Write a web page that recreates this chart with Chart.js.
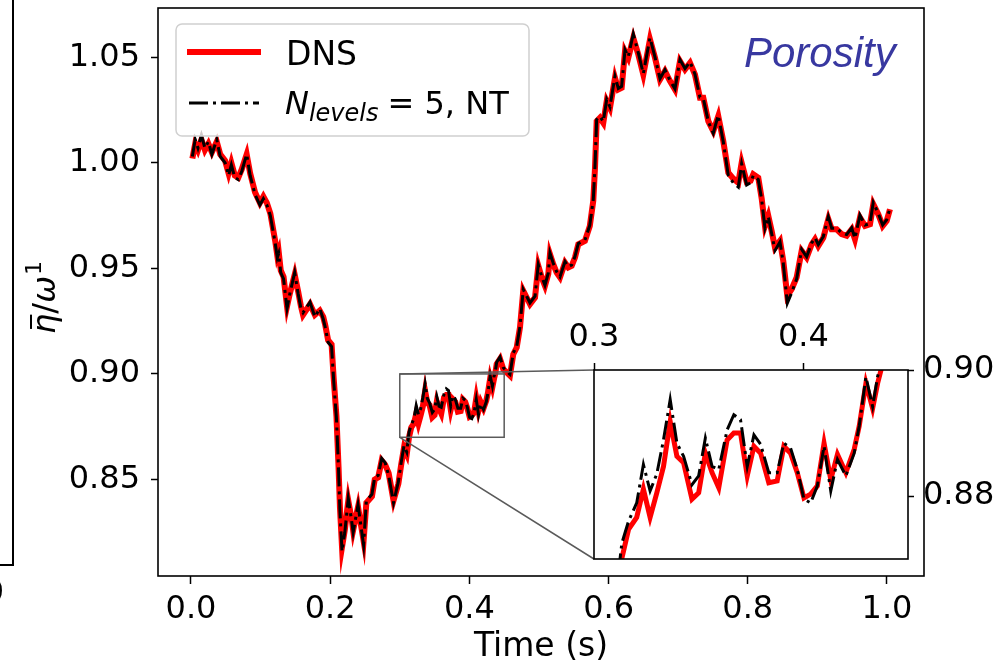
<!DOCTYPE html>
<html lang="en">
<head>
<meta charset="UTF-8">
<title>Porosity: DNS vs NT</title>
<script src="https://cdn.jsdelivr.net/npm/chart.js"></script>
<style>
    body { margin: 0; background: #fff; }
    #wrap { position: relative; width: 1000px; height: 664px; }
    #mainChart { position: absolute; left: 0; top: 0; }
    #insetChart { position: absolute; left: 560px; top: 300px; }
</style>
</head>
<body>
<div id="wrap">
    <canvas id="mainChart" width="1000" height="664"></canvas>
    <canvas id="insetChart" width="440" height="290"></canvas>
</div>
<script>
// time samples (s)
const time = [
    0.002, 0.006, 0.010, 0.015, 0.020, 0.025, 0.030, 0.037, 0.042, 0.049, 0.054, 0.058, 0.063, 0.068, 0.073, 0.080,
    0.085, 0.092, 0.099, 0.104, 0.109, 0.114, 0.121, 0.124, 0.126, 0.129, 0.133, 0.138, 0.142, 0.149, 0.154, 0.158,
    0.161, 0.171, 0.178, 0.185, 0.190, 0.193, 0.197, 0.202, 0.205, 0.209, 0.212, 0.214, 0.217, 0.221, 0.226, 0.231,
    0.233, 0.240, 0.248, 0.252, 0.260, 0.264, 0.269, 0.274, 0.279, 0.284, 0.291, 0.298, 0.302, 0.306, 0.310,
    0.3133, 0.3165, 0.3204, 0.3236, 0.3268, 0.3300, 0.3332, 0.3364, 0.3396, 0.3428, 0.3468, 0.3500, 0.3532, 0.3564,
    0.3596, 0.3636, 0.3668, 0.3700, 0.3732, 0.3764, 0.3796, 0.3835, 0.3875, 0.3907, 0.3939, 0.3971, 0.4003, 0.4035,
    0.4067, 0.4099, 0.4131, 0.4163, 0.4203, 0.4243, 0.4267, 0.4299, 0.4331, 0.4355, 0.4371,
    0.4392, 0.4440, 0.4487, 0.4536, 0.4583, 0.4631, 0.4680, 0.4727, 0.4774, 0.4823, 0.4871, 0.4943, 0.4990, 0.5039,
    0.5086, 0.5134, 0.5158, 0.5205, 0.5254, 0.5302, 0.5374, 0.5421, 0.5470, 0.5517, 0.5565, 0.5660, 0.5730,
    0.5780, 0.5805, 0.5829, 0.5876, 0.5924, 0.5973, 0.6020, 0.6092, 0.6140, 0.6188, 0.6236, 0.6283, 0.6355, 0.6427,
    0.6499, 0.6595, 0.6667, 0.6739, 0.6810, 0.6882, 0.6954, 0.7026, 0.7098, 0.7170, 0.7241, 0.7313, 0.7361, 0.7433,
    0.7504, 0.7576, 0.7648, 0.7720, 0.7792, 0.7864, 0.7912, 0.7984, 0.8040, 0.8079, 0.8151, 0.8200,
    0.8247, 0.8295, 0.8343, 0.8391, 0.8463, 0.8510, 0.8568, 0.8631, 0.8702, 0.8774, 0.8846, 0.8918, 0.8966, 0.9013,
    0.9085, 0.9157, 0.9206, 0.9277, 0.9349, 0.9421, 0.9493, 0.9540, 0.9612, 0.9684, 0.9756, 0.9803, 0.9875, 0.9938,
    0.9996, 1.0043
];

// DNS porosity
const dns = [
    1.002, 1.009, 1.006, 1.011, 1.006, 1.009, 1.005, 1.010, 1.004, 1.001, 0.995, 1.000, 0.994, 0.993, 0.997, 1.004,
    0.995, 0.986, 0.981, 0.984, 0.981, 0.976, 0.963, 0.956, 0.958, 0.949, 0.946, 0.932, 0.938, 0.947, 0.939, 0.932,
    0.928, 0.933, 0.928, 0.930, 0.927, 0.923, 0.916, 0.914, 0.898, 0.880, 0.856, 0.837, 0.818, 0.826, 0.840, 0.831,
    0.826, 0.837, 0.821, 0.839, 0.842, 0.850, 0.851, 0.859, 0.857, 0.853, 0.840, 0.848, 0.857, 0.865, 0.862,
    0.8701, 0.8747, 0.8766, 0.8811, 0.8766, 0.8805, 0.8847, 0.8918, 0.8863, 0.8853, 0.8795, 0.8805, 0.8868, 0.8837,
    0.8813, 0.8889, 0.8900, 0.8900, 0.8832, 0.8879, 0.8868, 0.8821, 0.8824, 0.8879, 0.8868, 0.8837, 0.8797, 0.8803,
    0.8816, 0.8884, 0.8826, 0.8866, 0.8837, 0.8874, 0.8911, 0.8979, 0.8939, 0.8979, 0.9000,
    0.9047, 0.9071, 0.9023, 0.9007, 0.8992, 0.9094, 0.9125, 0.9220, 0.9394, 0.9362, 0.9331, 0.9362, 0.9512, 0.9457,
    0.9417, 0.9473, 0.9567, 0.9520, 0.9480, 0.9457, 0.9527, 0.9504, 0.9512, 0.9551, 0.9614, 0.9630, 0.9700,
    0.9819, 0.9977, 1.0197, 1.0213, 1.0189, 1.0292, 1.0260, 1.0402, 1.0347, 1.0355, 1.0528, 1.0497, 1.0591, 1.0513,
    1.0418, 1.0584, 1.0497, 1.0394, 1.0434, 1.0387, 1.0347, 1.0481, 1.0442, 1.0473, 1.0418, 1.0308, 1.0308, 1.0197,
    1.0150, 1.0221, 1.0103, 0.9953, 0.9925, 0.9905, 1.0000, 0.9910, 0.9915, 0.9945, 0.9929, 0.9830,
    0.9701, 0.9748, 0.9677, 0.9598, 0.9630, 0.9535, 0.9370, 0.9402, 0.9457, 0.9583, 0.9551, 0.9614, 0.9638, 0.9606,
    0.9645, 0.9733, 0.9685, 0.9685, 0.9662, 0.9654, 0.9685, 0.9638, 0.9740, 0.9701, 0.9709, 0.9804, 0.9756, 0.9701,
    0.9725, 0.9780
];

// N_levels = 5, NT
const nt = [
    1.003, 1.011, 1.007, 1.013, 1.007, 1.010, 1.004, 1.011, 1.003, 1.000, 0.994, 0.999, 0.993, 0.992, 0.996, 1.004,
    0.994, 0.985, 0.980, 0.983, 0.980, 0.975, 0.962, 0.955, 0.957, 0.948, 0.945, 0.931, 0.938, 0.948, 0.938, 0.931,
    0.929, 0.934, 0.927, 0.931, 0.926, 0.922, 0.915, 0.913, 0.897, 0.879, 0.855, 0.835, 0.816, 0.825, 0.841, 0.830,
    0.825, 0.838, 0.819, 0.840, 0.843, 0.851, 0.852, 0.860, 0.858, 0.852, 0.839, 0.849, 0.858, 0.866, 0.863,
    0.8725, 0.8760, 0.8789, 0.8850, 0.8808, 0.8835, 0.8889, 0.8953, 0.8884, 0.8863, 0.8818, 0.8832, 0.8892, 0.8847,
    0.8842, 0.8905, 0.8929, 0.8921, 0.8847, 0.8897, 0.8882, 0.8837, 0.8837, 0.8884, 0.8876, 0.8842, 0.8795, 0.8789,
    0.8816, 0.8879, 0.8808, 0.8858, 0.8832, 0.8868, 0.8911, 0.8989, 0.8942, 0.8990, 0.9008,
    0.9055, 0.9080, 0.9030, 0.9012, 0.8998, 0.9100, 0.9130, 0.9225, 0.9400, 0.9368, 0.9336, 0.9368, 0.9518, 0.9462,
    0.9420, 0.9478, 0.9572, 0.9524, 0.9484, 0.9460, 0.9532, 0.9508, 0.9516, 0.9556, 0.9618, 0.9634, 0.9704,
    0.9825, 0.9985, 1.0205, 1.0220, 1.0195, 1.0300, 1.0265, 1.0410, 1.0352, 1.0362, 1.0535, 1.0502, 1.0610, 1.0520,
    1.0422, 1.0592, 1.0500, 1.0398, 1.0440, 1.0390, 1.0350, 1.0488, 1.0446, 1.0478, 1.0420, 1.0310, 1.0305, 1.0195,
    1.0140, 1.0225, 1.0100, 0.9940, 0.9905, 0.9885, 0.9995, 0.9895, 0.9905, 0.9940, 0.9920, 0.9825,
    0.9690, 0.9745, 0.9665, 0.9585, 0.9625, 0.9525, 0.9335, 0.9385, 0.9450, 0.9590, 0.9555, 0.9620, 0.9645, 0.9612,
    0.9650, 0.9745, 0.9690, 0.9690, 0.9668, 0.9660, 0.9692, 0.9642, 0.9752, 0.9705, 0.9712, 0.9812, 0.9760, 0.9705,
    0.9730, 0.9785
];

const xTicks = [0.0, 0.2, 0.4, 0.6, 0.8, 1.0];
const yTicks = [0.85, 0.90, 0.95, 1.00, 1.05];
const insetXTicks = [0.3, 0.4];
const insetYTicks = [0.88, 0.90];
// zoomed window shown in the inset
const zoomX = [0.3, 0.45];
const zoomY = [0.87, 0.90];

Chart.defaults.font.family = '"DejaVu Sans"';
Chart.defaults.color = '#000';

function points(values) {
    return time.map((t, i) => ({ x: t, y: values[i] }));
}

function makeDatasets(redWidth) {
    return [
        {
            label: 'NT', data: points(nt), borderColor: '#000', borderWidth: 3,
            borderDash: [19, 5, 3, 5], pointRadius: 0, tension: 0, clip: 0, order: 1
        },
        {
            label: 'DNS', data: points(dns), borderColor: '#ff0000', borderWidth: redWidth,
            pointRadius: 0, tension: 0, clip: 0, order: 2
        }
    ];
}

// black box around the plot area
const framePlugin = {
    id: 'frame',
    beforeDraw(chart, args, opts) {
        if (opts.fill) {
            const a = chart.chartArea;
            chart.ctx.save();
            chart.ctx.fillStyle = '#fff';
            chart.ctx.fillRect(a.left, a.top, a.right - a.left, a.bottom - a.top);
            chart.ctx.restore();
        }
    },
    afterDatasetsDraw(chart) {
        const a = chart.chartArea;
        const ctx = chart.ctx;
        ctx.save();
        ctx.strokeStyle = '#000';
        ctx.lineWidth = 1.6;
        ctx.strokeRect(a.left, a.top, a.right - a.left, a.bottom - a.top);
        ctx.restore();
    }
};

function fixedTicks(values) {
    return scale => { scale.ticks = values.map(v => ({ value: v })); };
}

// keep tick labels from pushing the plot area around
function fixedSize(prop, size) {
    return scale => {
        scale[prop] = size;
        scale.paddingTop = 0; scale.paddingBottom = 0;
        scale.paddingLeft = 0; scale.paddingRight = 0;
    };
}

// inset first, so the main chart can connect to it
const insetChart = new Chart(document.getElementById('insetChart'), {
    type: 'line',
    data: { datasets: makeDatasets(5) },
    plugins: [framePlugin],
    options: {
        responsive: false,
        animation: false,
        layout: { padding: { left: 34, top: 0, right: 0, bottom: 31 } },
        plugins: { legend: { display: false }, tooltip: { enabled: false }, frame: { fill: true } },
        scales: {
            x: {
                type: 'linear', position: 'top', min: zoomX[0], max: zoomX[1],
                afterBuildTicks: fixedTicks(insetXTicks),
                afterFit: fixedSize('height', 70),
                ticks: { font: { size: 32 }, padding: 6, maxRotation: 0, autoSkip: false, callback: v => v.toFixed(1) },
                grid: { drawOnChartArea: false, tickLength: 7, tickWidth: 1.5, tickColor: '#000' },
                border: { display: false }
            },
            y: {
                type: 'linear', position: 'right', min: zoomY[0], max: zoomY[1],
                afterBuildTicks: fixedTicks(insetYTicks),
                afterFit: fixedSize('width', 92),
                ticks: { font: { size: 32 }, padding: 9, autoSkip: false, callback: v => v.toFixed(2) },
                grid: { drawOnChartArea: false, tickLength: 6, tickWidth: 1.5, tickColor: '#000' },
                border: { display: false }
            }
        }
    }
});

// legend, labels, zoom indicator
const decorPlugin = {
    id: 'decor',
    afterDraw(chart) {
        const ctx = chart.ctx;
        const xs = chart.scales.x, ys = chart.scales.y;

        // zoom rectangle and connector lines to the inset
        const rx0 = xs.getPixelForValue(zoomX[0]), rx1 = xs.getPixelForValue(zoomX[1]);
        const ry0 = ys.getPixelForValue(zoomY[1]), ry1 = ys.getPixelForValue(zoomY[0]);
        const ia = insetChart.chartArea;
        const ix = 560 + ia.left, iy0 = 300 + ia.top, iy1 = 300 + ia.bottom;
        ctx.save();
        ctx.strokeStyle = '#5a5a5a';
        ctx.lineWidth = 1.5;
        ctx.strokeRect(rx0, ry0, rx1 - rx0, ry1 - ry0);
        ctx.beginPath();
        ctx.moveTo(rx0, ry0); ctx.lineTo(ix, iy0);
        ctx.moveTo(rx0, ry1); ctx.lineTo(ix, iy1);
        ctx.stroke();
        ctx.restore();

        // legend box
        ctx.save();
        ctx.beginPath();
        ctx.roundRect(176, 24, 353, 112, 6);
        ctx.fillStyle = 'rgba(255,255,255,0.8)';
        ctx.fill();
        ctx.strokeStyle = '#d0d0d0';
        ctx.lineWidth = 1.5;
        ctx.stroke();

        ctx.lineWidth = 6;
        ctx.strokeStyle = '#ff0000';
        ctx.beginPath(); ctx.moveTo(187, 52); ctx.lineTo(261, 52); ctx.stroke();
        ctx.lineWidth = 3;
        ctx.strokeStyle = '#000';
        ctx.setLineDash([19, 5, 3, 5]);
        ctx.beginPath(); ctx.moveTo(189, 103); ctx.lineTo(259, 103); ctx.stroke();
        ctx.setLineDash([]);

        ctx.fillStyle = '#000';
        ctx.textBaseline = 'alphabetic';
        ctx.font = '33px "DejaVu Sans"';
        ctx.fillText('DNS', 286, 65);
        ctx.font = 'italic 32px "DejaVu Sans"';
        ctx.fillText('N', 285, 114);
        let lx = 285 + ctx.measureText('N').width;
        ctx.font = 'italic 24px "DejaVu Sans"';
        ctx.fillText('levels', lx, 121);
        lx += ctx.measureText('levels').width + 9;
        ctx.font = '32px "DejaVu Sans"';
        ctx.fillText('= 5, NT', lx, 114);
        ctx.restore();

        // panel tag
        ctx.save();
        ctx.fillStyle = '#3838a0';
        ctx.font = 'italic 42px "Liberation Sans"';
        ctx.fillText('Porosity', 744, 67);
        ctx.restore();

        // y axis label: eta-bar / omega^1
        ctx.save();
        ctx.translate(55, 298);
        ctx.rotate(-Math.PI / 2);
        ctx.fillStyle = '#000';
        ctx.textBaseline = 'alphabetic';
        const fIt = 'italic 32px "DejaVu Sans"', fUp = '32px "DejaVu Sans"', fSup = '22px "DejaVu Sans"';
        const parts = [['η', fIt, 0], ['/', fUp, 0], ['ω', fIt, 0], ['1', fSup, -14]];
        let total = 0;
        parts.forEach(p => { ctx.font = p[1]; p.push(ctx.measureText(p[0]).width); total += p[3]; });
        let px = -total / 2;
        parts.forEach((p, i) => {
            ctx.font = p[1];
            ctx.fillText(p[0], px, p[2]);
            if (i === 0) {
                ctx.fillRect(px + 5, -25, p[3] - 6, 2);
            }
            px += p[3] + (i === 2 ? 1 : 0);
        });
        ctx.restore();

        // edge of the neighbouring panel
        ctx.save();
        ctx.strokeStyle = '#000';
        ctx.lineWidth = 2;
        ctx.beginPath();
        ctx.moveTo(13, 0); ctx.lineTo(13, 565); ctx.lineTo(0, 565);
        ctx.stroke();
        ctx.fillStyle = '#000';
        ctx.font = '32px "DejaVu Sans"';
        ctx.textAlign = 'right';
        ctx.fillText('0', 4, 602);
        ctx.restore();
    }
};

const mainChart = new Chart(document.getElementById('mainChart'), {
    type: 'line',
    data: { datasets: makeDatasets(6) },
    plugins: [framePlugin, decorPlugin],
    options: {
        responsive: false,
        animation: false,
        layout: { padding: { left: 0, top: 8, right: 76, bottom: 0 } },
        plugins: { legend: { display: false }, tooltip: { enabled: false }, frame: { fill: false } },
        scales: {
            x: {
                type: 'linear', min: -0.0474, max: 1.0532,
                afterBuildTicks: fixedTicks(xTicks),
                afterFit: fixedSize('height', 88),
                ticks: { font: { size: 32 }, padding: 6, maxRotation: 0, autoSkip: false, callback: v => v.toFixed(1) },
                grid: { drawOnChartArea: false, tickLength: 8, tickWidth: 1.5, tickColor: '#000' },
                border: { display: false },
                title: { display: true, text: 'Time (s)', font: { size: 33, lineHeight: 1.0 }, padding: { top: 0, bottom: 0 } }
            },
            y: {
                type: 'linear', min: 0.8043, max: 1.0733,
                afterBuildTicks: fixedTicks(yTicks),
                afterFit: fixedSize('width', 158),
                ticks: { font: { size: 32 }, padding: 11, autoSkip: false, callback: v => v.toFixed(2) },
                grid: { drawOnChartArea: false, tickLength: 7, tickWidth: 1.5, tickColor: '#000' },
                border: { display: false }
            }
        }
    }
});
</script>
</body>
</html>
